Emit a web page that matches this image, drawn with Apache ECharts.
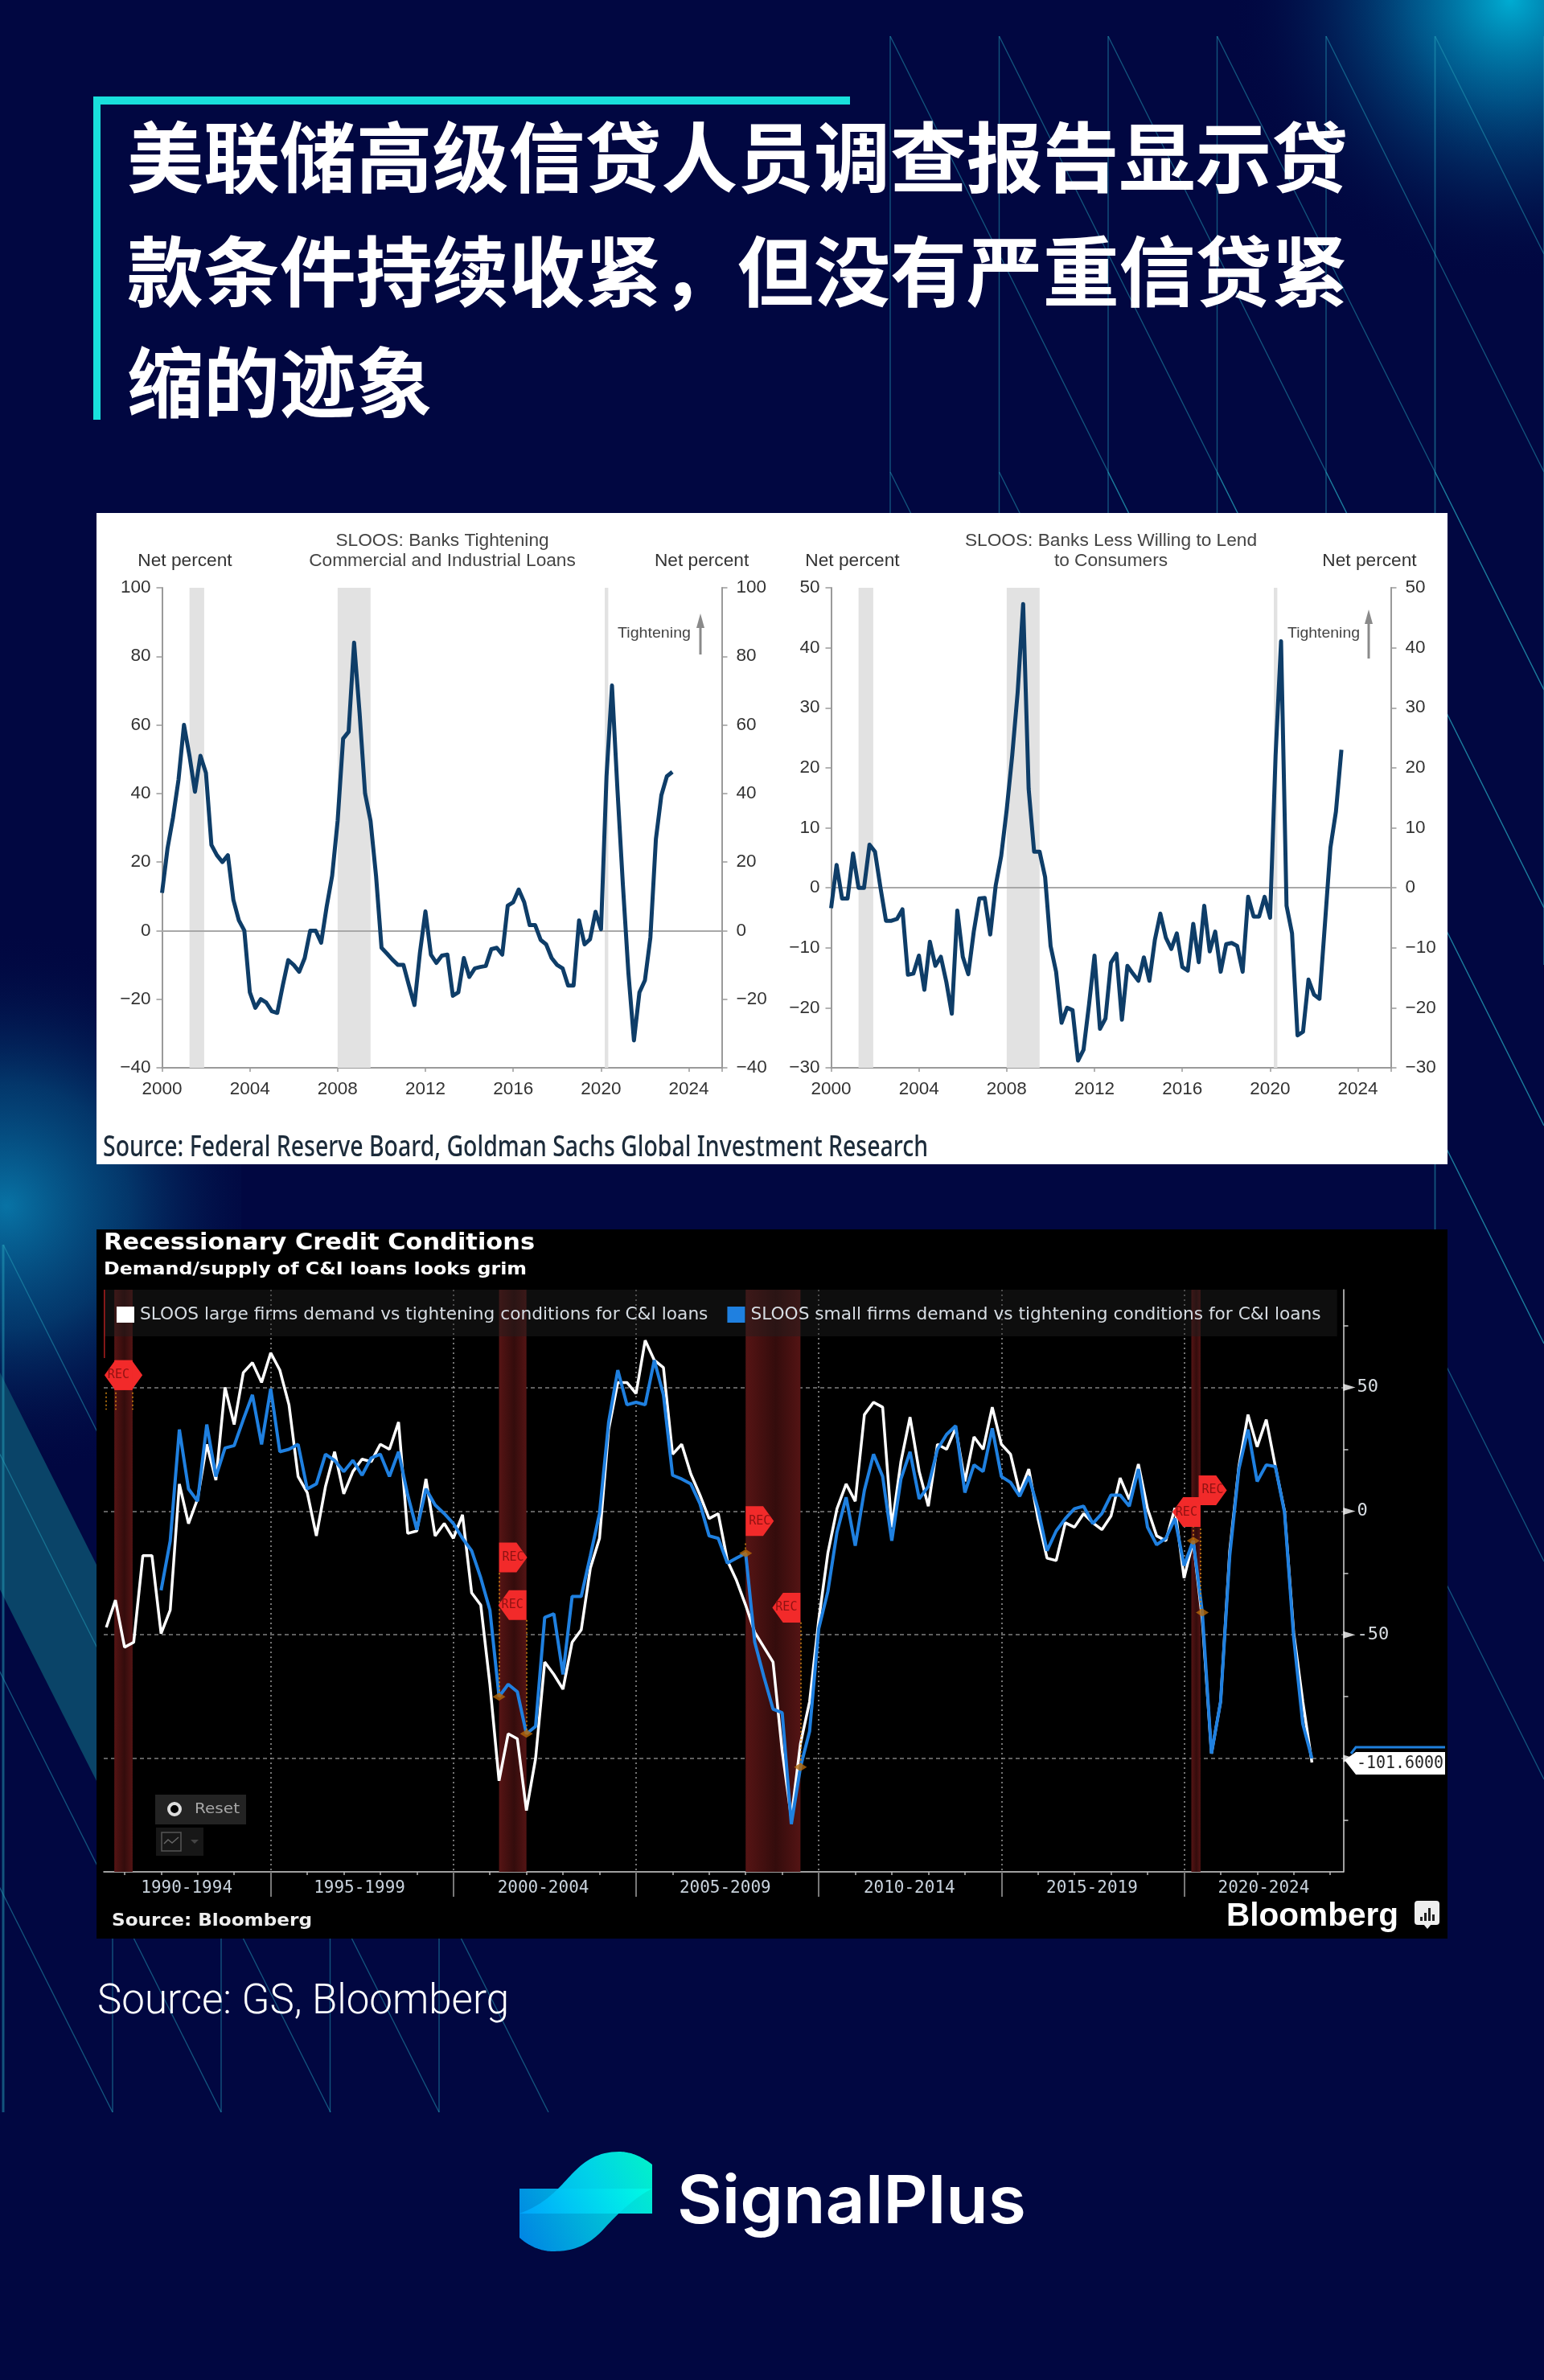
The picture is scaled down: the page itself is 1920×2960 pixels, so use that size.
<!DOCTYPE html>
<html><head><meta charset="utf-8">
<style>html,body{margin:0;padding:0;background:#010741}#c{width:1920px;height:2960px}</style>
<script src="https://cdn.jsdelivr.net/npm/echarts@6/dist/echarts.min.js"></script>
</head><body><div id="c"></div>
<script>
// ---------- data ----------
const gsStartYear = 2000;
const ciLoans = [11,24,33,44,60,51,40.5,51,46,25,22,20,22,9,3,0,-18,-22.5,-20,-21,-23.5,-24,-16,-8.6,-10,-12,-8,0,0,-3.5,7,16,32,56,58,84,63.5,40,32,16,-5,-6.7,-8.5,-10,-10,-16,-21.7,-6.4,5.6,-7,-9.4,-7.3,-7,-19,-18,-8,-13.5,-11,-10.6,-10.3,-5.4,-5,-7,7.3,8.3,12,8.3,1.6,1.6,-2.7,-4,-8,-10,-11,-16,-16,3,-4,-2.5,5.5,0.4,45,71.5,41,13,-12.5,-32,-18,-14.5,-2,26.7,39.5,45,46.3];
const consumerLoans = [-3.4,3.8,-1.8,-1.8,5.7,0,0,7.2,6,0,-5.5,-5.5,-5.2,-3.6,-14.5,-14.3,-11.3,-17,-9,-13,-11.5,-15.7,-21,-3.8,-11.5,-14.4,-7.3,-1.8,-1.7,-7.8,0.4,5.3,13,22,32.6,47.3,16.5,6,6,1.8,-9.7,-14,-22.5,-20,-20.4,-28.8,-27,-19.5,-11.3,-23.5,-21.8,-12.5,-11,-22,-13,-14.3,-15.5,-11.6,-15.5,-8.7,-4.3,-8.3,-10.2,-7.6,-13.2,-13.8,-6,-12.4,-3,-10.6,-7.3,-14,-9.4,-9.2,-9.7,-14,-1.5,-4.8,-4.8,-1.5,-5,22,41.1,-3,-7.6,-24.6,-24,-15.3,-17.8,-18.5,-6,6.7,12.7,23];
const gsRecessions = [[2001.25,2001.92],[2008,2009.5],[2020.17,2020.33]];

const largeStart = 1990.5;
const largeFirms = [-47,-36,-55,-53,-18,-18,-49.5,-40,11,-5,5,27,12.5,50,35,56,60,52,64,57,43,14,7.5,-10,10,24,7,16,21,20,27,25,36,-9,-8,13,-10,-5,-11,-1.5,-33,-38,-70,-109,-90,-92,-121,-100,-61,-66,-72,-53,-48,-23,-11,33,52,52,47.5,69,61,58,23,27,15,6.5,-3,-1,-20,-28,-38,-49,-55,-61,-97,-124,-94,-77,-44,-17,1,11,4,39,44,42,-6.5,20,38,16,2,27,25,33.5,12,30,25,42,27,23,7.5,17,-3,-19,-20,-4.7,-6.5,-1,-4.7,-7.5,-2,13.4,4.7,19,1,-10,-12,1.3,-27,-12,-44,-98,-77,-16,18,39,26,37,18,0,-49,-77,-101.6];
const smallStart = 1992;
const smallFirms = [-32,-12,33,9,4,35,14,25.5,26.5,37,47,27,49.5,24,25,27,9,11,23,20.5,16,20.5,14.5,21.5,23,14,24,6.5,-7.5,9,2.5,-1,-5,-11,-16,-27,-40,-75,-70,-73,-90,-87,-43,-41.5,-66,-34.5,-34.5,-18,-1,36,57,43,44,43,61,47,14.5,13,11,3,-10,-11,-21,-19,-17,-53,-67,-80,-81.5,-126.5,-103.5,-89,-47.5,-32.5,-8.5,5.6,-14,8.4,23,14,-12,13,24,5,10,25,31,34.5,7.5,18.7,16,33.5,14,11.6,6,14,1,-16,-8,-3,1,2,-5,-1,6.5,6.5,2,17,-6.5,-13.6,-11,-3,-22,-12,-41,-98,-77,-18,17,33,12,18.7,18,-0.5,-51,-86,-100];
const bbgRecessions = [[1990.72,1991.22],[2001.25,2002],[2008,2009.5],[2020.2,2020.45]];
const bbgPeriodLabels = ['1990-1994','1995-1999','2000-2004','2005-2009','2010-2014','2015-2019','2020-2024'];
const bbgPeriodLabelPos = [1992.7,1997.43,2002.46,2007.44,2012.48,2017.48,2022.18];
const bbgMajorYears = [1995,2000,2005,2010,2015,2020];
const bbgMinorYears = [1991,1992,1993,1994,1996,1997,1998,1999,2001,2002,2003,2004,2006,2007,2008,2009,2011,2012,2013,2014,2016,2017,2018,2019,2021,2022,2023,2024];
const bbgMajorValues = [50,0,-50,-100];
const bbgMinorValues = [75,25,-25,-75,-125];
const flagsStart = [[1990.72,55],[2001.25,-18.7],[2008,-4],[2020.4,8.4]];
const flagsEnd = [[1991.22,55],[2002,-38],[2009.5,-39],[2020.45,-0.4]];
const recMarkers = [[2001.25,-75],[2002,-90],[2008,-17],[2009.5,-103.5],[2020.25,-12],[2020.5,-41]];
const markerLinks = [[2001.25,-25,-75],[2002,-44,-90],[2008,-13,-17],[2009.5,-45,-103.5],[2020.25,-6,-12],[2020.45,-7,-41],[1990.5,48,41],[1990.75,48,41],[1991.22,48,41]];
const titleLines = ['美联储高级信贷人员调查报告显示贷','款条件持续收紧，但没有严重信贷紧','缩的迹象'];

// ---------- helpers ----------
const ctx = document.createElement('canvas').getContext('2d');
function fit(text, font, w){ ctx.font = font; return w / ctx.measureText(text).width; }
function T(text, x, y, font, fill, w, align, z){
  const o = {type:'text', x, y, z: z===undefined?50:z, silent:true,
    style:{text, font, fill, textVerticalAlign:'middle', textAlign: align||'left'}};
  if(w){ o.scaleX = fit(text,font,w); }
  return o;
}
function bez(p0,p1,p2,p3,ox,oy){
  const out=[];
  for(let k=0;k<=24;k++){const t=k/24,u=1-t;
    out.push([ox+u*u*u*p0[0]+3*u*u*t*p1[0]+3*u*t*t*p2[0]+t*t*t*p3[0],oy+u*u*u*p0[1]+3*u*u*t*p1[1]+3*u*t*t*p2[1]+t*t*t*p3[1]]);}
  return out;
}
const minus = v => String(v).replace('-','\u2212');
const bg = '#010741', line = 'rgba(38,160,185,0.5)';
const g = [];
// glows
g.push({type:'circle',z:-20,silent:true,shape:{cx:1878,cy:0,r:350},style:{fill:{type:'radial',x:.5,y:.5,r:.5,colorStops:[{offset:0,color:'rgba(0,172,210,1)'},{offset:.35,color:'rgba(0,110,160,.75)'},{offset:1,color:'rgba(1,7,65,0)'}]}}});
g.push({type:'circle',z:-20,silent:true,shape:{cx:8,cy:1500,r:340},style:{fill:{type:'radial',x:.5,y:.5,r:.5,colorStops:[{offset:0,color:'rgba(8,115,165,1)'},{offset:.45,color:'rgba(4,70,120,.75)'},{offset:1,color:'rgba(1,7,65,0)'}]}}});
g.push({type:'polygon',z:-19,silent:true,shape:{points:[[0,1707],[120,1946],[120,2215],[0,1977]]},style:{fill:'#0a4468'}});
// line pattern
const addL=(x1,y1,x2,y2,w)=>g.push({type:'line',z:-18,silent:true,shape:{x1,y1,x2,y2},style:{stroke:line,lineWidth:w||1.4}});
[1107,1242.5,1378,1513.5,1649,1784.5].forEach(x=>{
  addL(x,45,Math.min(1920,x+813),45+2*Math.min(813,1920-x));
  addL(x,587,1920,587+2*(1920-x));
});
g.push({type:'rect',z:-17,silent:true,shape:{x:300,y:1448,width:1483,height:81},style:{fill:bg}});
[1107,1242.5,1378,1513.5,1649].forEach(x=>addL(x,45,x,1200));
addL(1784.5,45,1784.5,1600,1.8);
addL(1920,45,1920,1200,2);
[4,140,275,410.5,546].forEach(x=>{ addL(x,1548,x,2627,x===4?3:1.4); });
[-402,-267,-131,4,140].forEach(x=>{ addL(x,1548,x+542,2627); });
// cyan bracket
g.push({type:'rect',z:-5,silent:true,shape:{x:116,y:120,width:941,height:10},style:{fill:'#19e0dc'}});
g.push({type:'rect',z:-5,silent:true,shape:{x:116,y:120,width:9,height:402},style:{fill:'#19e0dc'}});
// title
titleLines.forEach((t,i)=>g.push(T(t,158,[196,338,476][i],'bold 94.9px "Noto Sans CJK SC"','#fff')));
// panels
g.push({type:'rect',z:-5,silent:true,shape:{x:120,y:638,width:1680,height:810},style:{fill:'#fff'}});
g.push({type:'rect',z:-5,silent:true,shape:{x:120,y:1529,width:1680,height:882},style:{fill:'#000'}});
// GS text
const ar='22.7px "Liberation Sans"';
g.push(T('SLOOS: Banks Tightening',550,673,ar,'#444',null,'center'));
g.push(T('Commercial and Industrial Loans',550,698,ar,'#444',null,'center'));
g.push(T('Net percent',230,698,ar,'#333',null,'center'));
g.push(T('Net percent',872.6,698,ar,'#333',null,'center'));
g.push(T('SLOOS: Banks Less Willing to Lend',1381.5,673,ar,'#444',null,'center'));
g.push(T('to Consumers',1381.5,698,ar,'#444',null,'center'));
g.push(T('Net percent',1060,698,ar,'#333',null,'center'));
g.push(T('Net percent',1703,698,ar,'#333',null,'center'));
g.push(T('Tightening',768,788,'19px "Liberation Sans"','#444',91));
g.push(T('Tightening',1601,788,'19px "Liberation Sans"','#444',90));
[[871,763,814],[1702,758,819]].forEach(a=>{
  g.push({type:'line',z:50,silent:true,shape:{x1:a[0],y1:a[1]+14,x2:a[0],y2:a[2]},style:{stroke:'#8a8a8a',lineWidth:3}});
  g.push({type:'polygon',z:50,silent:true,shape:{points:[[a[0],a[1]],[a[0]+5,a[1]+18],[a[0]-5,a[1]+18]]},style:{fill:'#8a8a8a'}});
});
g.push(T('Source: Federal Reserve Board, Goldman Sachs Global Investment Research',128,1428,'500 36px "Noto Sans"','#1c2b3a',1026));
// Bloomberg text
g.push(T('Recessionary Credit Conditions',129,1547,'bold 28px "DejaVu Sans"','#fff',536));
g.push(T('Demand/supply of C&I loans looks grim',129,1579,'bold 22px "DejaVu Sans"','#fff',526));
g.push(T('Source: Bloomberg',139,2389,'bold 22px "DejaVu Sans"','#eee',249));
g.push(T('Bloomberg',1525,2384,'bold 41px "Liberation Sans"','#fff',214));
g.push({type:'rect',z:50,silent:true,shape:{x:1759,y:2364,width:31,height:30,r:4},style:{fill:'#eee'}});
g.push({type:'polygon',z:50,silent:true,shape:{points:[[1770,2393],[1780,2393],[1775,2399]]},style:{fill:'#eee'}});
[[1766,2384,3,5],[1771,2379,3,10],[1776,2373,3,16],[1781,2381,3,8]].forEach(b=>g.push({type:'rect',z:51,silent:true,shape:{x:b[0],y:b[1],width:b[2],height:b[3]},style:{fill:'#222'}}));
// Reset widget
g.push({type:'rect',z:40,silent:true,shape:{x:193,y:2232,width:113,height:37},style:{fill:'#232323'}});
g.push({type:'circle',z:41,silent:true,shape:{cx:217,cy:2250,r:7},style:{fill:'#000',stroke:'#ddd',lineWidth:4}});
g.push(T('Reset',242,2250,'18px "DejaVu Sans"','#a8a8a8',56,'left',41));
g.push({type:'rect',z:40,silent:true,shape:{x:194,y:2273,width:59,height:35},style:{fill:'#171717'}});
g.push({type:'rect',z:41,silent:true,shape:{x:201,y:2279,width:24,height:23},style:{fill:'none',stroke:'#555',lineWidth:1.5}});
g.push({type:'polyline',z:41,silent:true,shape:{points:[[204,2293],[209,2288],[214,2292],[222,2285]]},style:{fill:'none',stroke:'#666',lineWidth:1.5}});
g.push({type:'polygon',z:41,silent:true,shape:{points:[[237,2288],[247,2288],[242,2293]]},style:{fill:'#444'}});
g.push({type:'rect',z:41,silent:true,shape:{x:129,y:1604,width:1.6,height:85},style:{fill:'#a01c1c'}});
// value tag
g.push({type:'polygon',z:45,silent:true,shape:{points:[[1672,2189],[1686,2179],[1797,2179],[1797,2207],[1686,2207]]},style:{fill:'#fff'}});
g.push({type:'polyline',z:45,silent:true,shape:{points:[[1680,2181],[1686,2173],[1797,2173]]},style:{fill:'none',stroke:'#1f7fdc',lineWidth:3}});
g.push(T('-101.6000',1687,2194,'21px "DejaVu Sans Mono"','#222',108,'left',46));
// footer
g.push(T('Source: GS, Bloomberg',121,2491,'300 51px Roboto','#fff',512));
g.push(T('SignalPlus',842,2740,'600 82px Inter','#fff',434));
// logo: upper wave and lower wave
const upper=[].concat(bez([0,77],[18,70],[32,62],[48,46],646,2676),bez([48,46],[68,26],[84,0],[124,0],646,2676),bez([124,0],[140,0],[155,8],[165,16],646,2676),[[811,2753],[646,2753]]);
const lower=[].concat([[646,2722],[811,2722]],bez([165,0],[145,10],[125,28],[105,50],646,2722),bez([105,50],[85,72],[65,78],[41,78],646,2722),bez([41,78],[25,78],[10,70],[0,61],646,2722));
g.push({type:'polygon',z:50,silent:true,shape:{points:upper},style:{fill:{type:'linear',x:0,y:1,x2:1,y2:0,colorStops:[{offset:0,color:'#00a9f4'},{offset:.55,color:'#00d2e8'},{offset:1,color:'#02f2c9'}]}}});
g.push({type:'polygon',z:51,silent:true,shape:{points:lower},style:{opacity:.86,fill:{type:'linear',x:0,y:1,x2:1,y2:0,colorStops:[{offset:0,color:'#0096ff'},{offset:.45,color:'#00c8f5'},{offset:1,color:'#00ffe5'}]}}});

// ---------- axes ----------
const gsAxisX = i => ({type:'value',gridIndex:i,min:2000,max:2025.5,interval:4,splitLine:{show:false},
  axisLine:{onZero:false,lineStyle:{color:'#9a9a9a',width:2}},axisTick:{length:5,lineStyle:{color:'#9a9a9a',width:1.5}},
  axisLabel:{color:'#333',fontFamily:'Liberation Sans',fontSize:22.5,margin:15,formatter:v=>v<=2024?String(v):''}});
const gsAxisY = (i,pos,min,max,iv,m) => ({type:'value',gridIndex:i,position:pos,min,max,interval:iv,splitLine:{show:false},
  axisLine:{show:true,onZero:false,lineStyle:{color:'#9a9a9a',width:2}},axisTick:{show:true,length:7,lineStyle:{color:'#9a9a9a',width:1.5}},
  axisLabel:{color:'#333',fontFamily:'Liberation Sans',fontSize:22.5,margin:m,formatter:minus}});
const mono='DejaVu Sans Mono', yMin=-145.8, yMax=89.5;
const xAxis=[gsAxisX(0),gsAxisX(1),
 {type:'value',gridIndex:2,min:1990.43,max:2024.36,splitLine:{show:false},
  axisLine:{onZero:false,lineStyle:{color:'#d5d5d5',width:1.5}},
  axisTick:{customValues:bbgMinorYears,length:4,lineStyle:{color:'#bbb',width:1.5}},
  axisLabel:{customValues:bbgPeriodLabelPos,color:'#c8d2dc',fontFamily:mono,fontSize:21,margin:10,hideOverlap:false,showMinLabel:true,showMaxLabel:true,
    formatter:v=>bbgPeriodLabels[bbgPeriodLabelPos.indexOf(v)]||''}},
 {type:'value',gridIndex:2,position:'bottom',min:1990.43,max:2024.36,
  axisLine:{show:false,onZero:false},axisLabel:{show:false},
  axisTick:{customValues:bbgMajorYears,length:31,lineStyle:{color:'#777',width:2}},
  splitLine:{show:true,lineStyle:{color:'#999',type:[2,4],width:1.5}}}];
const yAxis=[gsAxisY(0,'left',-40,100,20,14),gsAxisY(0,'right',-40,100,20,18),
 gsAxisY(1,'left',-30,50,10,14),gsAxisY(1,'right',-30,50,10,18),
 {type:'value',gridIndex:2,position:'right',min:yMin,max:yMax,
  axisLine:{show:true,onZero:false,lineStyle:{color:'#d5d5d5',width:1.5}},axisTick:{show:false,customValues:bbgMajorValues},
  axisLabel:{customValues:[50,0,-50],color:'#d8dde2',fontFamily:mono,fontSize:22,margin:17,hideOverlap:false},
  splitLine:{show:true,lineStyle:{color:'#808080',type:[5,4],width:1.5}}},
 {type:'value',gridIndex:2,position:'right',min:yMin,max:yMax,
  axisLine:{show:false,onZero:false},axisLabel:{show:false},splitLine:{show:false},
  axisTick:{show:true,customValues:bbgMinorValues,length:6,lineStyle:{color:'#ccc',width:1.5}}}];

// ---------- series ----------
const pts=(arr,start)=>arr.map((v,i)=>[start+i*0.25,v]);
const gsSeries=(name,data,xi,yi)=>({name,type:'line',xAxisIndex:xi,yAxisIndex:yi,data:pts(data,gsStartYear),symbol:'none',
  lineStyle:{color:'#0e3d68',width:5,join:'round'},itemStyle:{color:'#0e3d68'},silent:true,z:3,
  markArea:{silent:true,z:1,itemStyle:{color:'#e2e2e2'},data:gsRecessions.map(r=>[{xAxis:r[0]},{xAxis:r[1]}])},
  markLine:{silent:true,symbol:'none',z:2,label:{show:false},lineStyle:{color:'#a8a8a8',width:2,type:'solid'},data:[{yAxis:0}]}});
const recFill={type:'linear',x:0,y:0,x2:1,y2:0,colorStops:[{offset:0,color:'#561414'},{offset:.55,color:'#340c0c'},{offset:1,color:'#541414'}]};
const flagR='path://M0,0 L62,0 L100,50 L62,100 L0,100 Z', flagL='path://M38,0 L100,0 L100,100 L38,100 L0,50 Z';
const flagSeries=(name,data,sym,off)=>({name,type:'scatter',xAxisIndex:2,yAxisIndex:4,data,symbol:sym,symbolSize:[35,37],symbolOffset:[off,0],clip:false,silent:true,z:6,
  itemStyle:{color:'#f22a2a',opacity:1},label:{show:true,position:'inside',formatter:'REC',color:'#8f1212',fontFamily:mono,fontSize:15}});
const series=[
 gsSeries('SLOOS C&I',ciLoans,0,0),
 gsSeries('SLOOS Consumer',consumerLoans,1,2),
 {name:'Recessions',type:'line',xAxisIndex:2,yAxisIndex:4,data:[],silent:true,z:1,
  markArea:{silent:true,itemStyle:{color:recFill},data:bbgRecessions.map(r=>[{xAxis:r[0]},{xAxis:r[1]}])}},
 {name:'SLOOS large firms demand vs tightening conditions for C&I loans',type:'line',xAxisIndex:2,yAxisIndex:4,data:pts(largeFirms,largeStart),symbol:'none',color:'#ffffff',lineStyle:{width:3.5,color:'#fff'},silent:true,z:3},
 {name:'SLOOS small firms demand vs tightening conditions for C&I loans',type:'line',xAxisIndex:2,yAxisIndex:4,data:pts(smallFirms,smallStart),symbol:'none',color:'#1f80e0',lineStyle:{width:4,color:'#1f80e0'},silent:true,z:4},
 flagSeries('flagsStart',flagsStart.map((p,i)=>i===0?{value:p,label:{show:false}}:p),flagR,17.5),
 flagSeries('flagsEnd',flagsEnd,flagL,-17.5),
 {name:'markers',type:'scatter',xAxisIndex:2,yAxisIndex:4,data:recMarkers,symbol:'diamond',symbolSize:[16,10],silent:true,z:5,itemStyle:{color:'#b5690a'},
  markLine:{silent:true,symbol:'none',label:{show:false},lineStyle:{color:'#d98a12',type:[2,3],width:1.5},
    data:markerLinks.map(m=>[{coord:[m[0],m[1]]},{coord:[m[0],m[2]]}])}},
 {name:'axisMarks',type:'scatter',xAxisIndex:2,yAxisIndex:4,data:bbgMajorValues.map(v=>[2024.36,v]),symbol:'path://M0,0 L100,50 L0,100 Z',symbolSize:[15,9],symbolOffset:[7.5,0],clip:false,silent:true,z:5,itemStyle:{color:'#fff'}}
];

const chart=echarts.init(document.getElementById('c'),null,{renderer:'canvas',width:1920,height:2960});
chart.setOption({
 animation:false,backgroundColor:bg,
 grid:[{left:201.5,top:731,width:696,height:597},{left:1033.5,top:731,width:696,height:597},{left:129,top:1604,width:1541.5,height:724}],
 xAxis,yAxis,series,
 legend:{show:true,left:129,top:1604,padding:[20,20,16,16],itemWidth:22,itemHeight:20,itemGap:24,icon:'rect',backgroundColor:'rgba(32,32,32,.45)',selectedMode:false,
  textStyle:{color:'#d6dce2',fontFamily:'DejaVu Sans',fontSize:21.7,padding:[4,0,0,2]},
  data:[{name:'SLOOS large firms demand vs tightening conditions for C&I loans'},{name:'SLOOS small firms demand vs tightening conditions for C&I loans'}]},
 graphic:{elements:g}
});
</script></body></html>
